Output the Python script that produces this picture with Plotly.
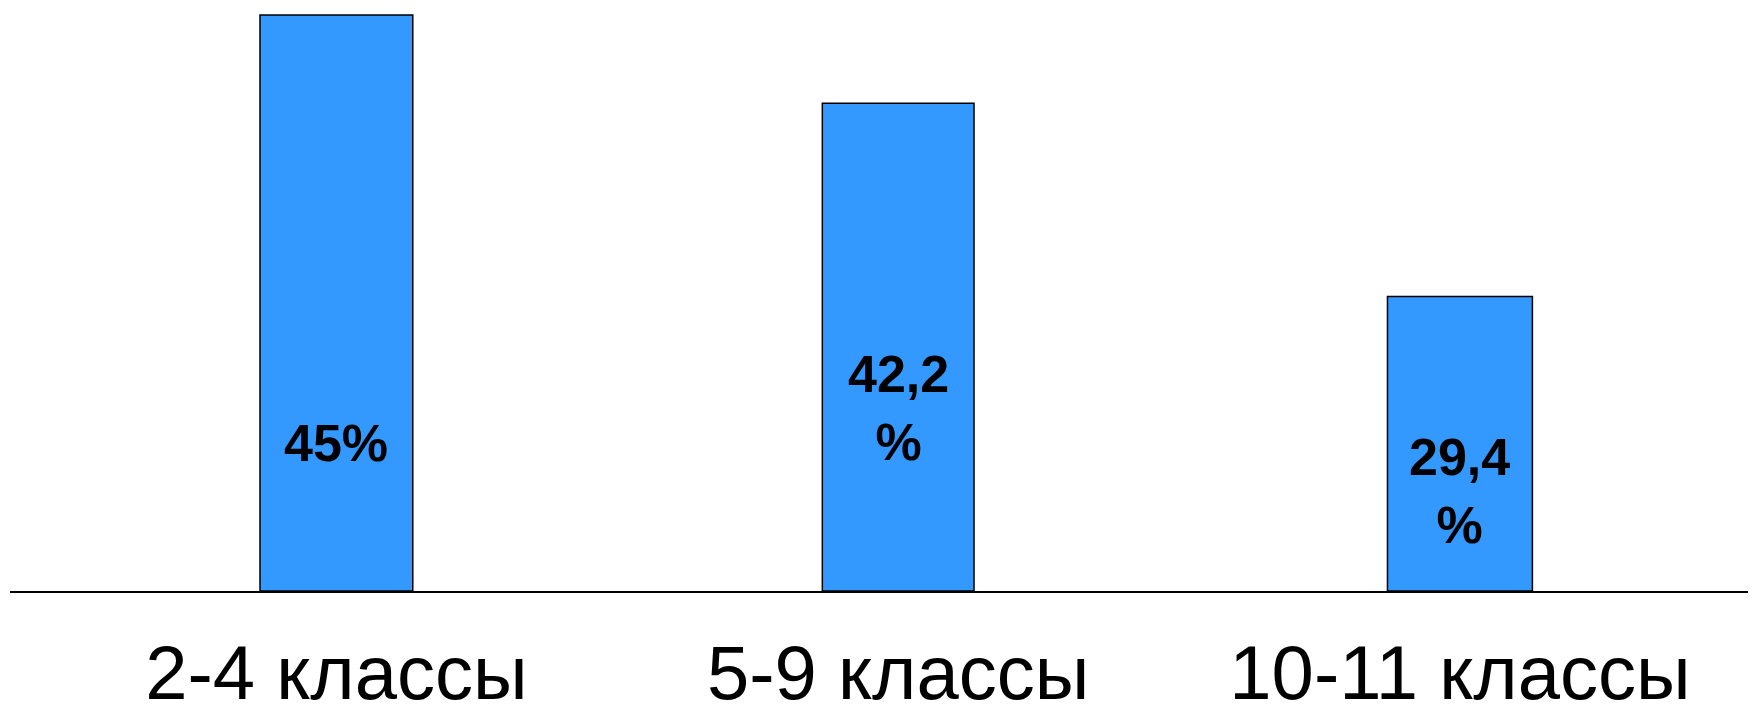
import plotly.graph_objects as go

# --- data ---
categories = ["2-4 классы", "5-9 классы", "10-11 классы"]
bar_heights = [45.0, 38.1, 23.0]          # bar heights as drawn
bar_labels = ["45%", "42,2<br>%", "29,4<br>%"]   # labels printed on the bars

# --- styling / layout constants (not data) ---
label_y = [11.6, 14.3, 7.8]   # vertical placement of the in-bar labels (axis units)
bar_widths = [0.272, 0.27, 0.258]
BAR_COLOR = "#3399FF"
FONT = "Liberation Sans, Arial, sans-serif"

fig = go.Figure()
fig.add_trace(go.Bar(
    x=categories,
    y=bar_heights,
    width=bar_widths,
    marker=dict(color=BAR_COLOR, line=dict(color="black", width=1.5)),
    hoverinfo="skip",
))

for cat, lab, ly in zip(categories, bar_labels, label_y):
    fig.add_annotation(
        x=cat, y=ly, xref="x", yref="y",
        text=lab, showarrow=False,
        xanchor="center", yanchor="middle",
        font=dict(family=FONT, size=52, color="black", weight="bold"),
    )

# the page body has an 8px margin, so the figure is sized to fit the window
fig.update_layout(
    width=1748, height=697,
    margin=dict(l=2, r=0, t=0, b=114, autoexpand=False),
    paper_bgcolor="white", plot_bgcolor="white",
    showlegend=False,
    xaxis=dict(
        type="category",
        range=[-0.581, 2.527],
        automargin=False,
        showline=True, linecolor="black", linewidth=2,
        showgrid=False, zeroline=False, ticks="",
        tickfont=dict(family=FONT, size=76, color="black"),
        ticklabelstandoff=15,
    ),
    yaxis=dict(
        range=[0, 45.55],
        visible=False, showgrid=False, zeroline=False,
    ),
)

fig.write_html("out.html")
